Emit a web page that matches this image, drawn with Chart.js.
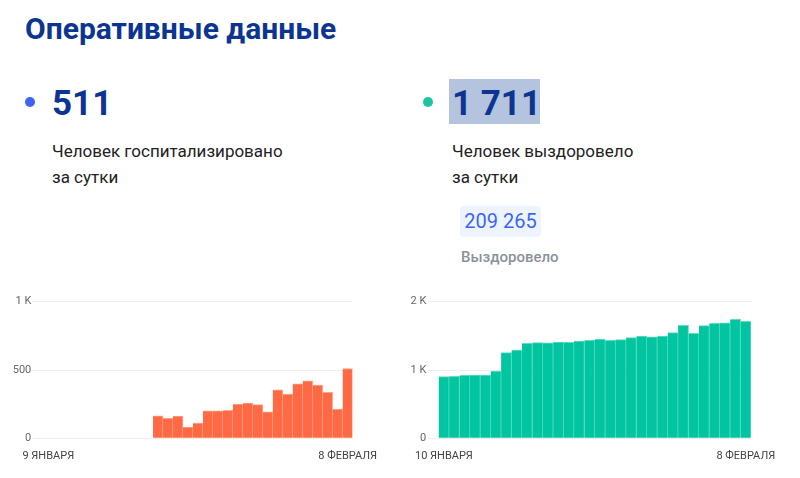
<!DOCTYPE html>
<html lang="ru">
<head>
  <meta charset="UTF-8" />
  <title>Оперативные данные</title>
  <script src="https://cdn.jsdelivr.net/npm/chart.js"></script>
  <style>
    body {
      margin: 0;
      width: 800px;
      height: 478px;
      background: #fff;
      font-family: 'Roboto', sans-serif;
      position: relative;
      overflow: hidden;
    }
    .abs { position: absolute; white-space: nowrap; }
    .title { left: 25px; top: 14px; font-size: 30px; line-height: 30px; font-weight: 700; color: #0c3591; }
    .dot { width: 10px; height: 10px; border-radius: 50%; }
    .big { font-size: 35px; line-height: 35px; font-weight: 700; color: #0c3591; }
    .caption { font-size: 17px; line-height: 26px; font-weight: 400; color: #222; }
    .hl { background: #b4c3de; }
    .badge { background: #eef4ff; border-radius: 4px; color: #3c66f0; font-size: 20px; line-height: 31px; text-align: center; }
    .sub { font-size: 15px; line-height: 15px; font-weight: 500; color: #8b919c; }
    .chart { position: absolute; }
  </style>
</head>
<body>
  <div class="abs title">Оперативные данные</div>

  <!-- hospitalized -->
  <div class="abs dot" style="left:25px; top:97px; background:#3d64f5;"></div>
  <div class="abs big" style="left:52px; top:85.5px;">511</div>
  <div class="abs caption" style="left:52px; top:138px;">Человек госпитализировано<br>за сутки</div>

  <!-- recovered -->
  <div class="abs dot" style="left:423px; top:97px; background:#19c6a0;"></div>
  <div class="abs hl" style="left:449px; top:79px; width:91px; height:45px;"></div>
  <div class="abs big" style="left:452px; top:85.5px;">1 711</div>
  <div class="abs caption" style="left:452px; top:138px;">Человек выздоровело<br>за сутки</div>
  <div class="abs badge" style="left:460px; top:206px; width:81px; height:31px;">209 265</div>
  <div class="abs sub" style="left:461px; top:250px;">Выздоровело</div>

  <div class="chart" style="left:0; top:290px; width:388px; height:180px;">
    <canvas id="hospChart"></canvas>
  </div>
  <div class="chart" style="left:395px; top:290px; width:400px; height:180px;">
    <canvas id="recChart"></canvas>
  </div>

  <script>
    const hospDates = [
      "8 января", "9 января", "10 января", "11 января", "12 января", "13 января", "14 января", "15 января",
      "16 января", "17 января", "18 января", "19 января", "20 января", "21 января", "22 января", "23 января",
      "24 января", "25 января", "26 января", "27 января", "28 января", "29 января", "30 января", "31 января",
      "1 февраля", "2 февраля", "3 февраля", "4 февраля", "5 февраля", "6 февраля", "7 февраля", "8 февраля"
    ];
    const hospValues = [
      null, null, null, null, null, null, null, null, null, null, null, null,
      165, 146, 163, 83, 112, 202, 202, 205, 251, 258,
      246, 193, 354, 324, 398, 420, 390, 337, 214, 511
    ];

    const recDates = [
      "9 января", "10 января", "11 января", "12 января", "13 января", "14 января", "15 января", "16 января",
      "17 января", "18 января", "19 января", "20 января", "21 января", "22 января", "23 января", "24 января",
      "25 января", "26 января", "27 января", "28 января", "29 января", "30 января", "31 января",
      "1 февраля", "2 февраля", "3 февраля", "4 февраля", "5 февраля", "6 февраля", "7 февраля", "8 февраля"
    ];
    const recValues = [
      null, 903, 908, 922, 927, 927, 986, 1254, 1293, 1391, 1401,
      1396, 1410, 1405, 1425, 1435, 1454, 1435, 1445, 1474, 1498,
      1484, 1498, 1547, 1654, 1537, 1650, 1684, 1689, 1742, 1711
    ];

    Chart.defaults.font.family = "Roboto";
    Chart.defaults.animation = false;

    function makeChart(id, labels, values, color, seam, yMax, yStep, padRight) {
      return new Chart(document.getElementById(id), {
        type: "bar",
        data: {
          labels: labels,
          datasets: [{
            data: values,
            backgroundColor: color,
            borderColor: seam,
            borderWidth: { top: 1, right: 1, left: 0, bottom: 0 },
            borderSkipped: false,
            barPercentage: 1,
            categoryPercentage: 1
          }]
        },
        options: {
          responsive: true,
          maintainAspectRatio: false,
          layout: { padding: { top: 11.7, right: padRight, bottom: 0, left: 0 } },
          plugins: { legend: { display: false }, tooltip: { enabled: false } },
          scales: {
            x: {
              afterFit: scale => { scale.height = 31.7; },
              grid: { display: false, drawTicks: false },
              border: { display: false },
              ticks: {
                autoSkip: false,
                maxRotation: 0,
                padding: 11,
                color: "#444",
                font: { size: 11 },
                callback: (v, i) => (i === 1 || i === labels.length - 1) ? labels[i].toUpperCase() : ""
              }
            },
            y: {
              min: 0,
              max: yMax,
              afterFit: scale => { scale.width = 33.3; },
              grid: { color: "#eeeeee", drawTicks: false },
              border: { display: false },
              ticks: {
                stepSize: yStep,
                padding: 2,
                color: "#666",
                font: { size: 11 },
                callback: v => v >= 1000 ? (v / 1000) + " K" : v
              }
            }
          }
        }
      });
    }

    makeChart("hospChart", hospDates, hospValues, "#ff6a45", "#ffa58c", 1000, 500, 0);
    makeChart("recChart", recDates, recValues, "#00c5a0", "#5fdcc3", 2000, 1000, 44);
  </script>
</body>
</html>
